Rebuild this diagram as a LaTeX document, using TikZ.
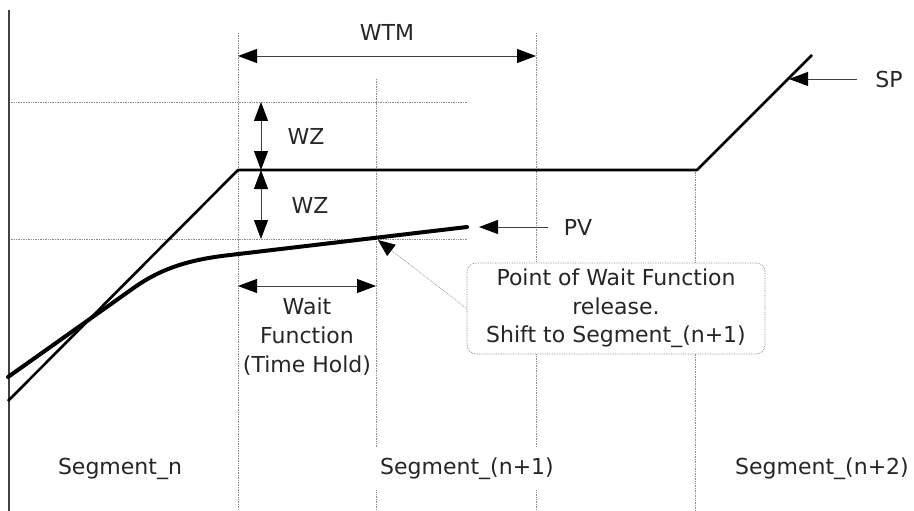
\documentclass[tikz,border=0pt]{standalone}
\usepackage{fontspec}
\setmainfont{DejaVu Sans}
\usetikzlibrary{arrows.meta}
\begin{document}
\begin{tikzpicture}[x=1pt,y=-1pt,
  grid/.style={densely dotted, black!45, line width=0.7pt},
  axisline/.style={line width=1.1pt, black!75},
  spline/.style={line width=2.6pt, line join=round},
  pvline/.style={line width=4pt, line cap=round, line join=round},
  dimarrow/.style={line width=0.9pt, black!75,
    {Triangle[length=19pt,width=14pt,color=black]}-{Triangle[length=19pt,width=14pt,color=black]}},
  ptrarrow/.style={line width=0.9pt, black!75, -{Triangle[length=19pt,width=14pt,color=black]}},
  lbl/.style={font=\fontsize{22}{29}\selectfont, text=black!85, inner sep=0pt, align=center},
  seglbl/.style={lbl, fill=white, inner xsep=8pt, inner ysep=10pt},
  callbox/.style={lbl, draw=black!50, densely dotted, line width=0.7pt, fill=white,
    rounded corners=9pt, minimum width=298pt, minimum height=91pt, font=\fontsize{22}{28.5}\selectfont},
]
\useasboundingbox (0,0) rectangle (914,511);

% grid coordinates
\coordinate (axT) at (9,10);   \coordinate (axB) at (9,511);
\coordinate (v1T) at (238,33); \coordinate (v1B) at (238,511);
\coordinate (v2T) at (376,79); \coordinate (v2B) at (376,511);
\coordinate (v3T) at (536,33); \coordinate (v3B) at (536,511);
\coordinate (v4T) at (695,170);\coordinate (v4B) at (695,511);
\coordinate (h1L) at (9,102);  \coordinate (h1R) at (467,102);
\coordinate (h2L) at (9,239);  \coordinate (h2R) at (467,239);

\draw[grid] (v1T) -- (v1B);
\draw[grid] (v2T) -- (v2B);
\draw[grid] (v3T) -- (v3B);
\draw[grid] (v4T) -- (v4B);
\draw[grid] (h1L) -- (h1R);
\draw[grid] (h2L) -- (h2R);
\draw[axisline] (axT) -- (axB);

% segment labels
\node[seglbl] (segn) at (120,469) {Segment\_n};
\node[seglbl] (segn1) at (467,469) {Segment\_(n+1)};
\node[seglbl] (segn2) at (822,469) {Segment\_(n+2)};

% SP line
\coordinate (sp0) at (8,401);
\coordinate (sp1) at (238,170);
\coordinate (sp2) at (697,170);
\coordinate (sp3) at (812,55);
\draw[spline] (sp0) -- (sp1) -- (sp2) -- (sp3);

% PV line
\coordinate (pv0) at (8,377);
\coordinate (pv1) at (135,287);
\coordinate (pv2) at (230,255);
\coordinate (pv3) at (467,227);
\draw[pvline] (pv0) -- (pv1) .. controls (165,266) and (195,259) .. (pv2) -- (pv3);

% WTM
\coordinate (wtmL) at (238,56);
\coordinate (wtmR) at (536,56);
\draw[dimarrow] (wtmL) -- (wtmR);
\node[lbl] (wtm) at (387,32) {WTM};

% WZ
\coordinate (wzA) at (261,102);
\coordinate (wzB) at (261,170);
\coordinate (wzC) at (261,239);
\draw[dimarrow] (wzA) -- (wzB);
\draw[dimarrow] (wzB) -- (wzC);
\node[lbl] (wz1) at (306,136) {WZ};
\node[lbl] (wz2) at (310,205) {WZ};

% Wait function
\coordinate (wfL) at (238,286);
\coordinate (wfR) at (376,286);
\draw[dimarrow] (wfL) -- (wfR);
\node[lbl] (wf) at (307,337) {Wait\\Function\\(Time Hold)};

% PV pointer
\coordinate (pvP) at (548,227);
\coordinate (pvT) at (479,227);
\draw[ptrarrow] (pvP) -- (pvT);
\node[lbl] (pvlbl) at (578,227) {PV};

% SP pointer
\coordinate (spP) at (857,79);
\coordinate (spT) at (789,79);
\draw[ptrarrow] (spP) -- (spT);
\node[lbl] (splbl) at (889,79) {SP};

% callout
\node[callbox] (callout) at (616,308.5) {Point of Wait Function\\release.\\Shift to Segment\_(n+1)};
\coordinate (relpt) at (378,240);
\draw[grid, -{Triangle[length=17pt,width=14pt,color=black]}] (callout.west) -- (relpt);
\end{tikzpicture}
\end{document}
